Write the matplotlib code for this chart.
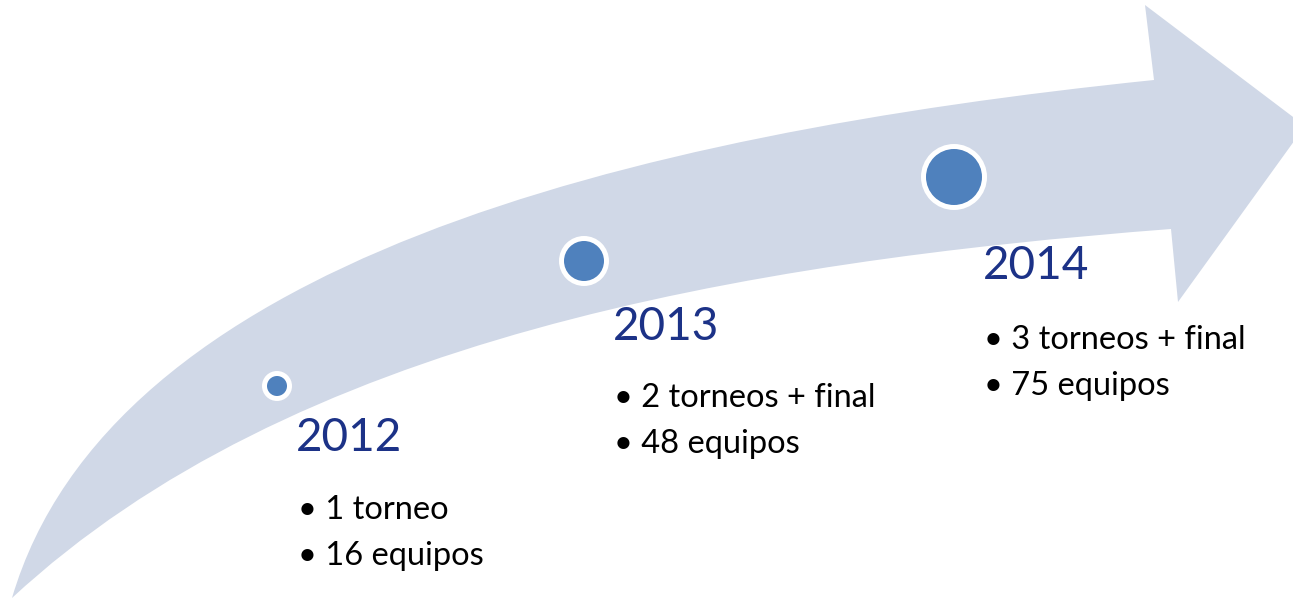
import matplotlib.pyplot as plt
from matplotlib.patches import Circle, PathPatch
from matplotlib.path import Path

plt.rcParams['font.family'] = ['Lato', 'DejaVu Sans']

# timeline content
years = ["2012", "2013", "2014"]
items = [
    ["1 torneo", "16 equipos"],
    ["2 torneos + final", "48 equipos"],
    ["3 torneos + final", "75 equipos"],
]

# layout (pixel coords, y down)
dot_xy = [(277, 386), (584, 261), (954, 177)]
dot_r = [10, 20, 28]
year_xy = [(296, 438), (613, 327), (983, 266)]
item_x = [298, 614, 984]
item_y0 = [510, 398, 340]
line_gap = 46

arrow_color = "#d0d8e7"
dot_color = "#4f81bd"
year_color = "#1c3287"

fig = plt.figure(figsize=(12.93, 6.01), dpi=100)
ax = fig.add_axes([0, 0, 1, 1])
ax.set_xlim(0, 1293)
ax.set_ylim(601, 0)
ax.axis("off")

# curved arrow
verts = [
    (12, 598),
    (110, 265), (620, 135), (1154, 80),   # upper shaft edge
    (1145, 5),                            # head top
    (1305, 126),                          # head tip
    (1178, 302),                          # head bottom
    (1171, 229),                          # lower notch
    (740, 262), (290, 340), (12, 598),    # lower shaft edge
    (12, 598),
]
codes = [
    Path.MOVETO,
    Path.CURVE4, Path.CURVE4, Path.CURVE4,
    Path.LINETO,
    Path.LINETO,
    Path.LINETO,
    Path.LINETO,
    Path.CURVE4, Path.CURVE4, Path.CURVE4,
    Path.CLOSEPOLY,
]
ax.add_patch(PathPatch(Path(verts, codes), facecolor=arrow_color, edgecolor="none"))

for i, year in enumerate(years):
    cx, cy = dot_xy[i]
    ax.add_patch(Circle((cx, cy), dot_r[i] + 5, facecolor="white", edgecolor="none"))
    ax.add_patch(Circle((cx, cy), dot_r[i], facecolor=dot_color, edgecolor="none"))
    ax.text(year_xy[i][0], year_xy[i][1], year, fontsize=33, color=year_color,
            ha="left", va="center")
    for j, item in enumerate(items[i]):
        ax.text(item_x[i], item_y0[i] + j * line_gap, "\u2022 " + item, fontsize=23.5,
                color="black", ha="left", va="center")

fig.savefig("out.png", dpi=100)
